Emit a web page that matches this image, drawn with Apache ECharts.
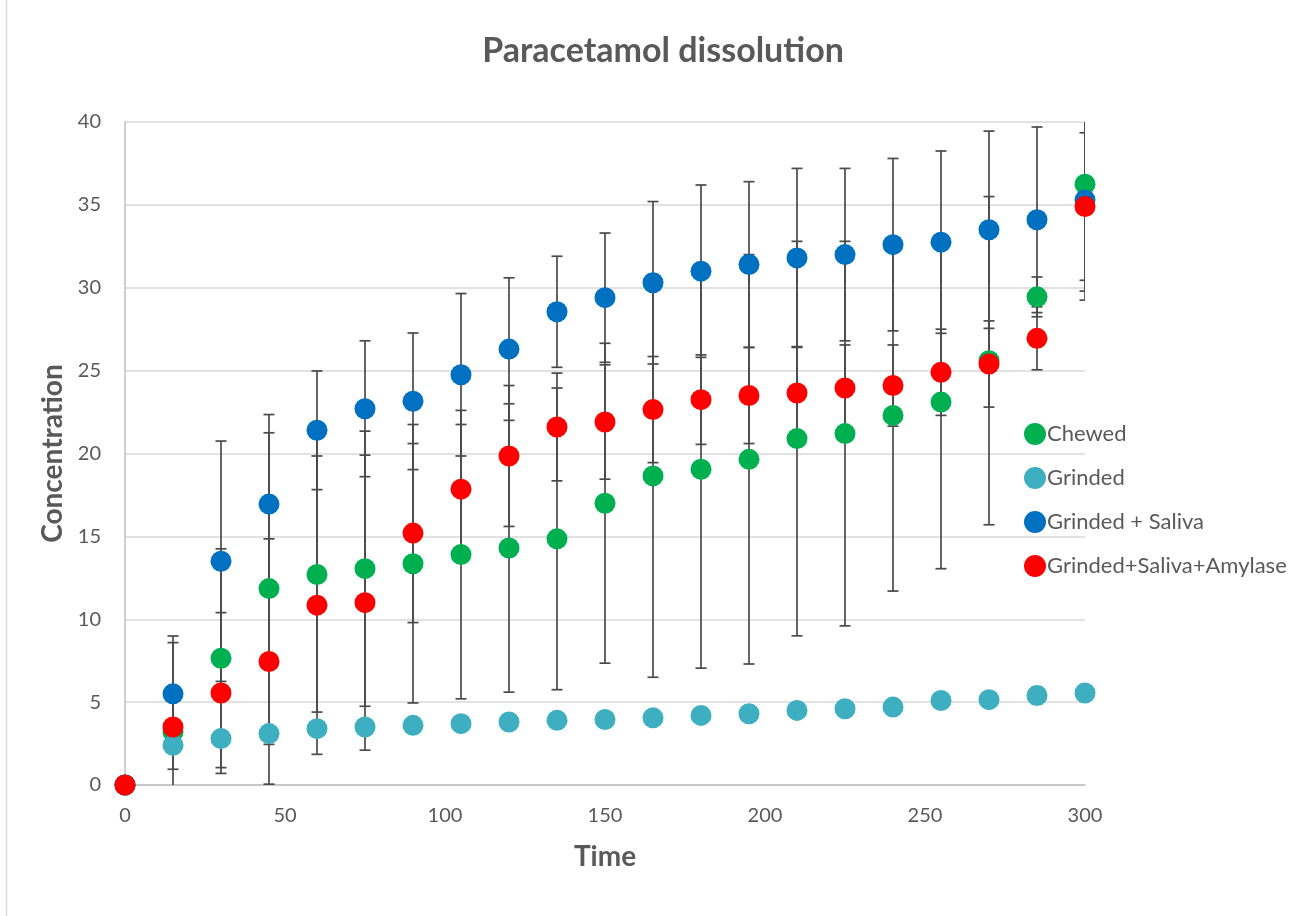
<!DOCTYPE html>
<html>
<head>
<meta charset="utf-8">
<script src="https://cdn.jsdelivr.net/npm/echarts@6/dist/echarts.min.js"></script>
<style>
  html, body { margin: 0; padding: 0; background: #fff; }
  #chart { width: 1293px; height: 916px; }
</style>
</head>
<body>
<div id="chart"></div>
<script>
const time = [0, 15, 30, 45, 60, 75, 90, 105, 120, 135, 150, 165, 180, 195, 210, 225, 240, 255, 270, 285, 300];

const chewed    = [0, 3.2, 7.65, 11.85, 12.7, 13.05, 13.35, 13.9, 14.3, 14.85, 17.0, 18.65, 19.05, 19.65, 20.9, 21.2, 22.3, 23.1, 25.6, 29.45, 36.25];
const chewedErr = [0, 2.25, 6.6, 9.4, 8.3, 8.3, 8.4, 8.7, 8.7, 9.1, 9.65, 12.15, 12.0, 12.35, 11.9, 11.6, 10.6, 10.05, 9.9, 1.2, 7.0];

const grinded    = [0, 2.4, 2.8, 3.1, 3.4, 3.5, 3.6, 3.7, 3.8, 3.9, 3.95, 4.05, 4.2, 4.3, 4.5, 4.6, 4.7, 5.1, 5.15, 5.4, 5.55];
const grindedErr = [0, 0.3, 0.3, 0.3, 0.35, 0.35, 0.35, 0.35, 0.4, 0.4, 0.4, 0.4, 0.4, 0.4, 0.45, 0.45, 0.45, 0.45, 0.45, 0.5, 0.5];

const saliva    = [0, 5.5, 13.5, 16.95, 21.4, 22.7, 23.15, 24.75, 26.3, 28.55, 29.4, 30.3, 31.0, 31.4, 31.8, 32.0, 32.6, 32.75, 33.5, 34.1, 35.3];
const salivaErr = [0, 3.49, 7.25, 5.4, 3.58, 4.1, 4.12, 4.9, 4.3, 3.35, 3.9, 4.9, 5.2, 5.0, 5.4, 5.2, 5.2, 5.5, 5.95, 5.6, 5.5];

const amylase    = [0, 3.5, 5.55, 7.45, 10.85, 11.0, 15.2, 17.85, 19.85, 21.6, 21.9, 22.65, 23.25, 23.5, 23.65, 23.95, 24.1, 24.9, 25.4, 26.95, 34.9];
const amylaseErr = [0, 5.09, 4.85, 7.4, 9.0, 8.9, 5.4, 3.9, 4.25, 3.25, 3.45, 3.2, 2.7, 2.9, 2.8, 2.6, 2.45, 2.6, 2.6, 1.9, 4.45];

const seriesDefs = [
  { name: 'Chewed', values: chewed, errs: chewedErr, color: '#00B050' },
  { name: 'Grinded', values: grinded, errs: grindedErr, color: '#3DAFC1' },
  { name: 'Grinded + Saliva', values: saliva, errs: salivaErr, color: '#0070C0' },
  { name: 'Grinded+Saliva+Amylase', values: amylase, errs: amylaseErr, color: '#FF0000' }
];

const textColor = '#595959';
const fontFam = 'Lato, "Open Sans", sans-serif';

function errorBarSeries(def) {
  const data = time.map((t, i) => [t, def.values[i] - def.errs[i], def.values[i] + def.errs[i]]);
  return {
    type: 'custom',
    name: def.name + ' err',
    silent: true,
    clip: true,
    z: 1,
    encode: { x: 0, y: [1, 2] },
    data: data,
    renderItem: function (params, api) {
      const x = api.value(0);
      const lo = api.coord([x, api.value(1)]);
      const hi = api.coord([x, api.value(2)]);
      const hw = 5.5;
      const style = { stroke: '#4a4a4a', lineWidth: 1.7, fill: null };
      return {
        type: 'group',
        children: [
          { type: 'line', shape: { x1: lo[0], y1: lo[1], x2: hi[0], y2: hi[1] }, style: style },
          { type: 'line', shape: { x1: lo[0] - hw, y1: lo[1], x2: lo[0] + hw, y2: lo[1] }, style: style },
          { type: 'line', shape: { x1: hi[0] - hw, y1: hi[1], x2: hi[0] + hw, y2: hi[1] }, style: style }
        ]
      };
    }
  };
}

const series = [];
seriesDefs.forEach(d => series.push(errorBarSeries(d)));
seriesDefs.forEach(d => series.push({
  type: 'scatter',
  name: d.name,
  symbol: 'circle',
  symbolSize: 21,
  z: 5,
  itemStyle: { color: d.color, opacity: 1 },
  data: time.map((t, i) => [t, d.values[i]])
}));

const chart = echarts.init(document.getElementById('chart'), null, { renderer: 'canvas' });
chart.setOption({
  animation: false,
  backgroundColor: '#ffffff',
  title: {
    text: 'Paracetamol dissolution',
    left: 658,
    top: 29,
    textAlign: 'center',
    textStyle: { color: textColor, fontFamily: fontFam, fontWeight: 'bold', fontSize: 34 }
  },
  graphic: [
    { type: 'line', shape: { x1: 6.5, y1: 0, x2: 6.5, y2: 916 }, style: { stroke: '#D9D9D9', lineWidth: 1.5 } }
  ],
  legend: {
    orient: 'vertical',
    left: 1019,
    top: 418,
    icon: 'circle',
    itemWidth: 22,
    itemHeight: 22,
    itemGap: 22,
    data: seriesDefs.map(d => d.name),
    textStyle: { color: textColor, fontFamily: fontFam, fontSize: 22, padding: [0, 0, 0, -4] }
  },
  grid: { left: 125, top: 122, right: 208, bottom: 131, containLabel: false },
  xAxis: {
    type: 'value',
    min: 0, max: 300, interval: 50,
    name: 'Time',
    nameLocation: 'middle',
    nameGap: 58,
    nameTextStyle: { color: textColor, fontFamily: fontFam, fontWeight: 'bold', fontSize: 28 },
    axisLine: { show: true, lineStyle: { color: '#BFBFBF', width: 1.5 } },
    axisTick: { show: false },
    axisLabel: { color: textColor, fontFamily: fontFam, fontSize: 20, margin: 21 },
    splitLine: { show: false }
  },
  yAxis: {
    type: 'value',
    min: 0, max: 40, interval: 5,
    name: 'Concentration',
    nameLocation: 'middle',
    nameGap: 57,
    nameTextStyle: { color: textColor, fontFamily: fontFam, fontWeight: 'bold', fontSize: 28 },
    axisLine: { show: true, lineStyle: { color: '#BFBFBF', width: 1.5 } },
    axisTick: { show: false },
    axisLabel: { color: textColor, fontFamily: fontFam, fontSize: 20, margin: 24 },
    splitLine: { show: true, lineStyle: { color: '#D9D9D9', width: 1.5 } }
  },
  series: series
});
</script>
</body>
</html>
